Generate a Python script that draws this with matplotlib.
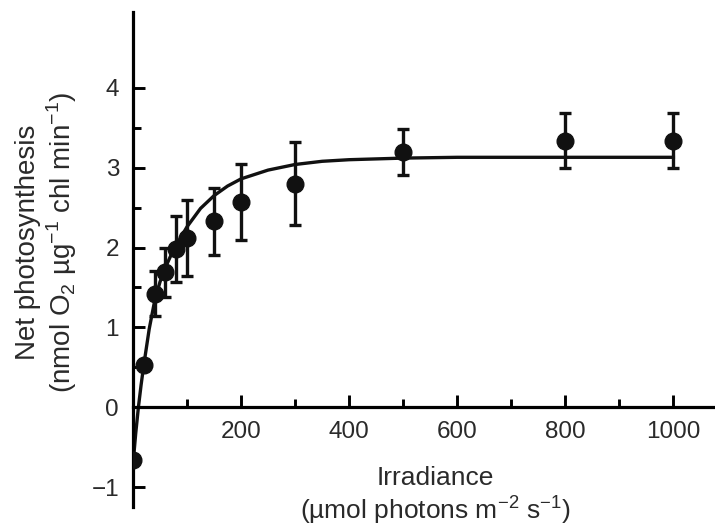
import numpy as np
import matplotlib
matplotlib.use("Agg")
import matplotlib.pyplot as plt

plt.rcParams['font.family'] = ['Liberation Sans', 'DejaVu Sans']
plt.rcParams['mathtext.fontset'] = 'custom'
plt.rcParams['mathtext.rm'] = 'Liberation Sans'

# measured points
irr = [0, 20, 40, 60, 80, 100, 150, 200, 300, 500, 800, 1000]
photo = [-0.66, 0.53, 1.42, 1.69, 1.98, 2.12, 2.33, 2.57, 2.80, 3.20, 3.34, 3.34]
err = [0.0, 0.05, 0.28, 0.31, 0.41, 0.48, 0.42, 0.48, 0.52, 0.29, 0.35, 0.35]

# fitted curve
curve_x = [0, 5, 10, 15, 20, 30, 40, 50, 60, 70, 80, 100, 125, 150, 175, 200,
           250, 300, 350, 400, 500, 600, 1000]
curve_y = [-0.72, -0.33, 0.0, 0.28, 0.53, 0.98, 1.33, 1.57, 1.75, 1.90, 2.03,
           2.26, 2.49, 2.65, 2.77, 2.86, 2.97, 3.04, 3.08, 3.10, 3.12, 3.13, 3.13]

fig = plt.figure(figsize=(7.15, 5.31), dpi=100)
ax = fig.add_axes([133 / 715, 24 / 531, 582 / 715, 495 / 531])

ax.plot(curve_x, curve_y, color='#111111', lw=2.4, zorder=2)
ax.errorbar(irr, photo, yerr=err, fmt='o', color='#111111', ms=12,
            elinewidth=2.4, capsize=4, capthick=2.4, zorder=3)

ax.set_xlim(0, 1077)
ax.set_ylim(-1.25, 4.95)

ax.spines['top'].set_visible(False)
ax.spines['right'].set_visible(False)
ax.spines['bottom'].set_position(('data', 0))
ax.spines['left'].set_linewidth(2.3)
ax.spines['bottom'].set_linewidth(2.3)

ax.set_xticks([200, 400, 600, 800, 1000])
ax.set_xticks([100, 300, 500, 700, 900], minor=True)
ax.set_yticks([-1, 0, 1, 2, 3, 4])
ax.set_yticks([0.5, 1.5, 2.5, 3.5], minor=True)
ax.tick_params(which='major', direction='in', length=8.6, width=2.1, labelsize=17.5, pad=10,
               labelcolor='#2a2a2a')
ax.tick_params(which='minor', direction='in', length=5.5, width=2.1)

ax.set_xlabel('Irradiance\n(µmol photons m$^{−2}$ s$^{−1}$)', fontsize=19,
              linespacing=1.12, color='#2a2a2a')
ax.xaxis.set_label_coords(0.519, 0.082)
ax.set_ylabel('Net photosynthesis\n(nmol O$_2$ µg$^{−1}$ chl min$^{−1}$)', fontsize=20,
              linespacing=1.15, color='#2a2a2a')
ax.yaxis.set_label_coords(-0.092, 0.535)

plt.savefig('out.png', dpi=100)
